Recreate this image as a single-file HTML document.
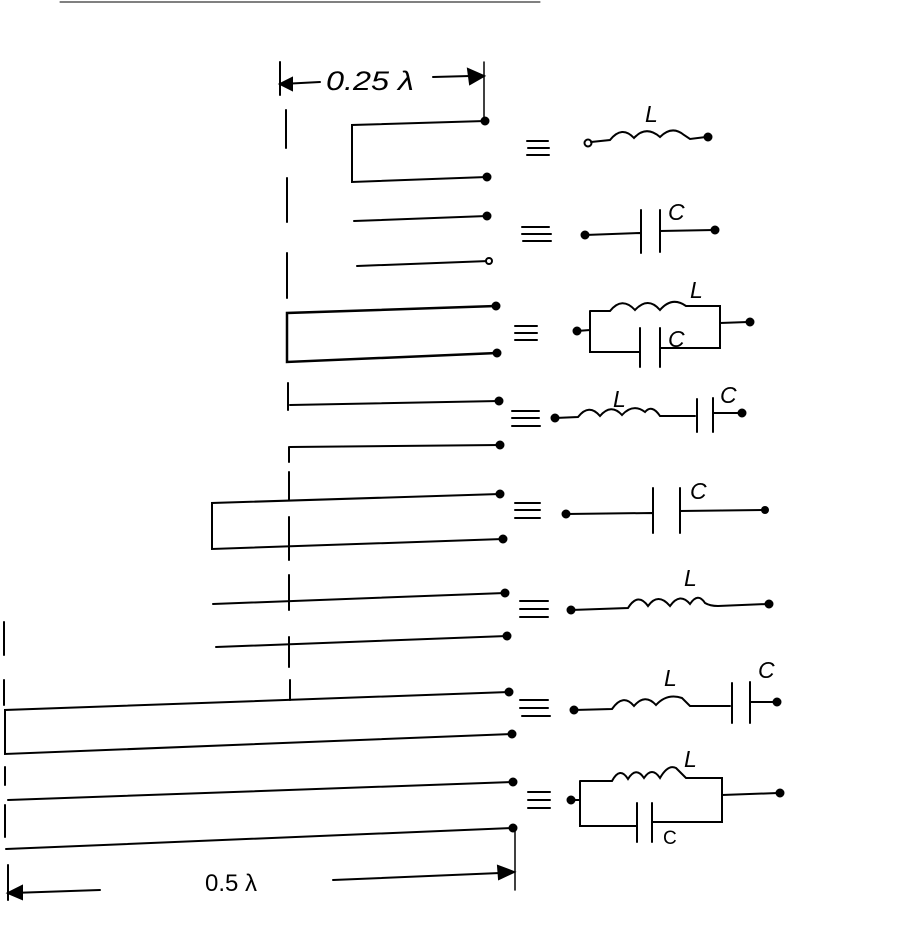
<!DOCTYPE html>
<html><head><style>html,body{margin:0;padding:0;background:#fff}svg{display:block}</style></head>
<body>
<svg width="914" height="941" viewBox="0 0 914 941" xmlns="http://www.w3.org/2000/svg" font-family="Liberation Sans, sans-serif" fill="none" stroke="#000" stroke-width="2" stroke-linecap="round">
<line x1="60" y1="2" x2="540" y2="2" stroke-width="1"/>
<!-- 0.25 lambda dimension -->
<line x1="280" y1="62" x2="280" y2="95"/>
<line x1="484" y1="62" x2="484" y2="118" stroke-width="1.5"/>
<line x1="282" y1="84" x2="320" y2="82"/>
<polygon points="280,84 292,78 292,90" fill="#000"/>
<line x1="433" y1="77" x2="470" y2="76"/>
<polygon points="484,76 468,69 470,84" fill="#000"/>
<text x="326" y="90" font-size="27" font-style="italic" fill="#000" stroke="none" textLength="88" lengthAdjust="spacingAndGlyphs">0.25 λ</text>
<!-- dashed vertical -->
<g stroke-width="2">
<line x1="286" y1="110" x2="286" y2="148"/>
<line x1="287" y1="178" x2="287" y2="222"/>
<line x1="287" y1="253" x2="287" y2="298"/>
<line x1="288" y1="383" x2="288" y2="410"/>
<line x1="289" y1="447" x2="289" y2="462"/>
<line x1="289" y1="472" x2="289" y2="500"/>
<line x1="289" y1="517" x2="289" y2="560"/>
<line x1="289" y1="575" x2="289" y2="610"/>
<line x1="289" y1="637" x2="289" y2="667"/>
<line x1="290" y1="680" x2="290" y2="700"/>
</g>
<!-- Row1 -->
<polyline points="485,121 352,125 352,182 487,177"/>
<circle cx="485" cy="121" r="3.5" fill="#000"/><circle cx="487" cy="177" r="3.5" fill="#000"/>
<!-- Row2 -->
<line x1="354" y1="221" x2="487" y2="216"/><line x1="357" y1="266" x2="489" y2="261"/>
<circle cx="487" cy="216" r="3.5" fill="#000"/><circle cx="489" cy="261" r="3" fill="#fff"/>
<!-- Row3 -->
<polyline points="496,306 287,313 287,362 497,353" stroke-width="2.5"/>
<circle cx="496" cy="306" r="3.5" fill="#000"/><circle cx="497" cy="353" r="3.5" fill="#000"/>
<!-- Row4 -->
<line x1="290" y1="405" x2="499" y2="401"/><line x1="290" y1="447" x2="500" y2="445"/>
<circle cx="499" cy="401" r="3.5" fill="#000"/><circle cx="500" cy="445" r="3.5" fill="#000"/>
<!-- Row5 -->
<polyline points="500,494 212,503 212,549 503,539"/>
<circle cx="500" cy="494" r="3.5" fill="#000"/><circle cx="503" cy="539" r="3.5" fill="#000"/>
<!-- Row6 -->
<line x1="213" y1="604" x2="505" y2="593"/><line x1="216" y1="647" x2="507" y2="636"/>
<circle cx="505" cy="593" r="3.5" fill="#000"/><circle cx="507" cy="636" r="3.5" fill="#000"/>
<!-- Row7 -->
<line x1="4" y1="622" x2="4" y2="655"/>
<line x1="4" y1="680" x2="4" y2="705"/>
<polyline points="509,692 5,710 5,754 512,734"/>
<circle cx="509" cy="692" r="3.5" fill="#000"/><circle cx="512" cy="734" r="3.5" fill="#000"/>
<!-- Row8 -->
<line x1="5" y1="767" x2="5" y2="785"/>
<line x1="5" y1="805" x2="5" y2="837"/>
<line x1="8" y1="800" x2="513" y2="782"/><line x1="6" y1="849" x2="513" y2="828"/>
<circle cx="513" cy="782" r="3.5" fill="#000"/><circle cx="513" cy="828" r="3.5" fill="#000"/>
<!-- 0.5 lambda -->
<line x1="8" y1="865" x2="8" y2="900"/>
<line x1="515" y1="830" x2="515" y2="890" stroke-width="1.5"/>
<line x1="12" y1="893" x2="100" y2="890"/>
<polygon points="8,893 22,886 22,899" fill="#000"/>
<line x1="333" y1="880" x2="500" y2="873"/>
<polygon points="514,872 498,866 499,879" fill="#000"/>
<text x="205" y="891" font-size="24" fill="#000" stroke="none">0.5 λ</text>
<!-- equivalence signs -->
<g stroke-width="2">
<path d="M527,141h21M528,148h21M527,155h22"/>
<path d="M522,227h27M522,234h29M523,241h28"/>
<path d="M515,326h22M515,333h22M515,340h22"/>
<path d="M512,411h27M512,418h27M512,426h28"/>
<path d="M515,503h25M515,510h25M515,518h25"/>
<path d="M520,601h28M520,609h28M520,617h28"/>
<path d="M520,700h28M520,708h28M522,716h28"/>
<path d="M528,792h22M528,800h22M528,808h22"/>
</g>
<!-- Labels -->
<g fill="#000" stroke="none" font-style="italic" font-size="23">
<text x="645" y="122">L</text>
<text x="668" y="220">C</text>
<text x="690" y="298">L</text>
<text x="668" y="347">C</text>
<text x="613" y="407">L</text>
<text x="720" y="403">C</text>
<text x="690" y="499">C</text>
<text x="684" y="586">L</text>
<text x="664" y="686">L</text>
<text x="758" y="678">C</text>
<text x="684" y="767">L</text>
<text x="663" y="844" font-style="normal" font-size="19">C</text>
</g>
<!-- Row1 inductor -->
<circle cx="588" cy="143" r="3.5" fill="#fff"/>
<path d="M591,142 L610,140 Q622,125 634,138 Q646,125 660,137 Q672,125 684,135 L690,139 L706,137"/>
<circle cx="708" cy="137" r="3.5" fill="#000"/>
<!-- Row2 capacitor -->
<circle cx="585" cy="235" r="3.5" fill="#000"/>
<path d="M585,235 L640,233 M641,210 L641,253 M660,210 L660,252 M660,231 L714,230"/>
<circle cx="715" cy="230" r="3.5" fill="#000"/>
<!-- Row3 parallel -->
<circle cx="577" cy="331" r="3.5" fill="#000"/>
<path d="M577,331 L590,330 M590,311 L590,352 L640,352 M590,311 L610,311 Q622,296 635,310 Q648,296 660,310 Q672,296 686,306 L720,306 L720,348 L660,348 M640,328 L640,367 M660,328 L660,367 M720,323 L748,322"/>
<circle cx="750" cy="322" r="3.5" fill="#000"/>
<!-- Row4 series LC -->
<circle cx="555" cy="418" r="3.5" fill="#000"/>
<path d="M555,418 L578,417 Q589,403 600,416 Q611,403 622,415 Q633,403 645,412 Q652,404 660,416 L695,416 M697,399 L697,432 M713,398 L713,432 M713,413 L740,413"/>
<circle cx="742" cy="413" r="3.5" fill="#000"/>
<!-- Row5 capacitor -->
<circle cx="566" cy="514" r="3.5" fill="#000"/>
<path d="M566,514 L652,513 M653,488 L653,533 M680,488 L680,533 M680,511 L763,510"/>
<circle cx="765" cy="510" r="3" fill="#000"/>
<!-- Row6 inductor -->
<circle cx="571" cy="610" r="3.5" fill="#000"/>
<path d="M571,610 L628,608 Q638,592 648,606 Q658,592 670,606 Q680,592 690,604 Q698,592 705,603 Q710,606 718,606 L767,604"/>
<circle cx="769" cy="604" r="3.5" fill="#000"/>
<!-- Row7 series -->
<circle cx="574" cy="710" r="3.5" fill="#000"/>
<path d="M574,710 L612,709 Q623,693 634,706 Q645,693 656,705 Q667,693 682,698 L690,706 L730,706 M732,683 L732,723 M750,682 L750,723 M750,702 L775,702"/>
<circle cx="777" cy="702" r="3.5" fill="#000"/>
<!-- Row8 parallel -->
<circle cx="571" cy="800" r="3.5" fill="#000"/>
<path d="M571,800 L580,800 M580,781 L580,826 L636,826 M580,781 L612,781 Q620,766 628,779 Q636,766 644,778 Q652,766 660,778 Q668,764 676,768 L686,778 L722,778 L722,822 L652,822 M637,803 L637,842 M652,803 L652,842 M722,795 L778,793"/>
<circle cx="780" cy="793" r="3.5" fill="#000"/>
</svg>
</body></html>
